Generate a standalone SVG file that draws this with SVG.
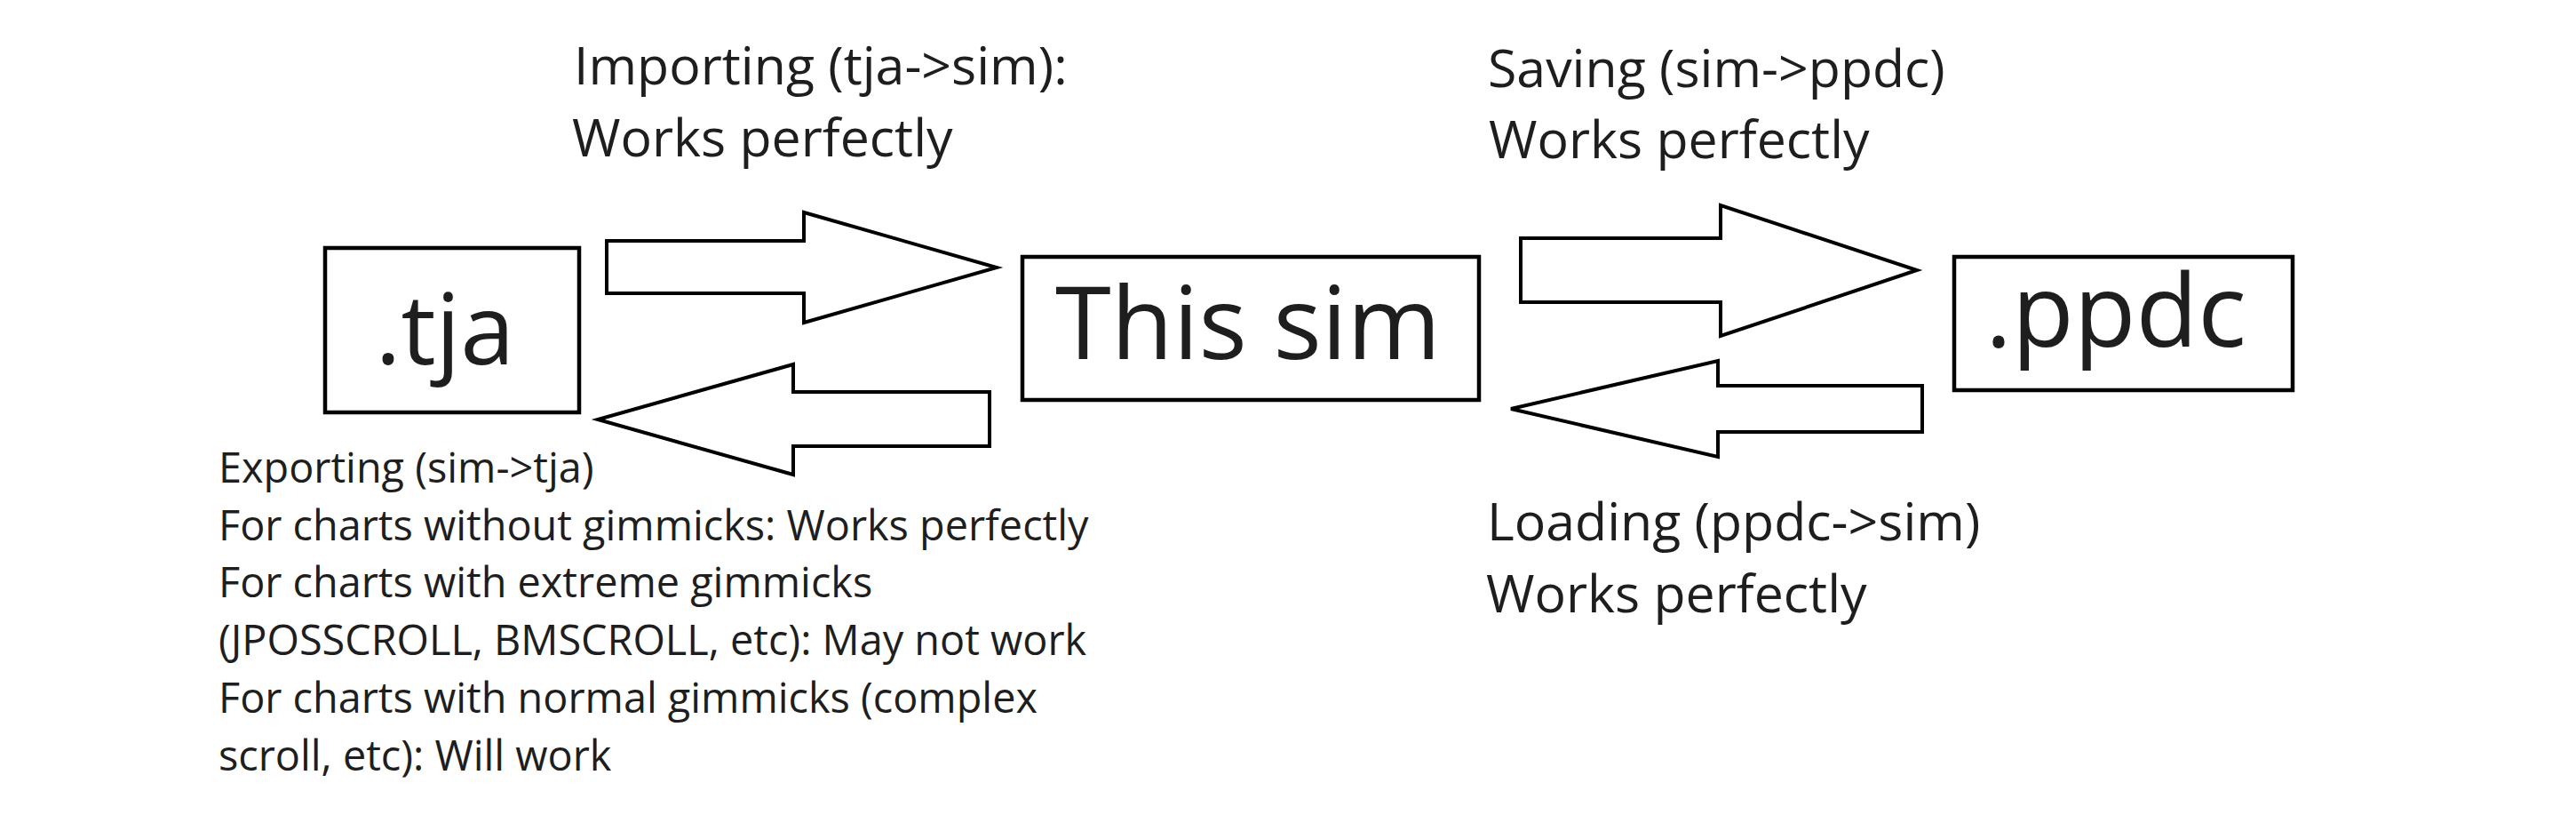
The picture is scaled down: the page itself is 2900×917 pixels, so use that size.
<svg xmlns="http://www.w3.org/2000/svg" width="2900" height="917" viewBox="0 0 2900 917">
<style>
.box{fill:#fff;stroke:#000;stroke-width:4.5}
.arr{fill:#fff;stroke:#000;stroke-width:4;stroke-linejoin:miter}
text{font-family:"Open Sans","Noto Sans",sans-serif;fill:#1e1e1e}
.big{font-size:114px;text-anchor:middle}
.lbl{font-size:59px}
.sm{font-size:46.8px}
</style>
<rect width="2900" height="917" fill="#fff"/>
<g id="connectors">
<polygon class="arr" points="683,271 905,271 905,239 1122,301 905,363 905,330 683,330"/>
<polygon class="arr" points="1114,441 893,441 893,410 673,472 893,534 893,502 1114,502"/>
<polygon class="arr" points="1712,268 1937,268 1937,231 2158,304 1937,378 1937,340 1712,340"/>
<polygon class="arr" points="2164,434 1934,434 1934,406 1701,460 1934,514 1934,486 2164,486"/>
</g>
<g id="node-tja">
<rect class="box" x="366" y="279" width="286" height="185"/>
<text class="big" x="501" y="410" style="font-size:110px">.tja</text>
</g>
<g id="node-sim">
<rect class="box" x="1151" y="289" width="514" height="161"/>
<text class="big" x="1405" y="404">This sim</text>
</g>
<g id="node-ppdc">
<rect class="box" x="2200" y="289" width="381" height="150"/>
<text class="big" x="2382" y="390">.ppdc</text>
</g>
<g id="label-import">
<text class="lbl" x="646" y="95">Importing (tja-&gt;sim):</text>
<text class="lbl" x="644" y="176">Works perfectly</text>
</g>
<g id="label-save">
<text class="lbl" x="1675" y="98">Saving (sim-&gt;ppdc)</text>
<text class="lbl" x="1676" y="178">Works perfectly</text>
</g>
<g id="label-load">
<text class="lbl" x="1674" y="608">Loading (ppdc-&gt;sim)</text>
<text class="lbl" x="1673" y="689">Works perfectly</text>
</g>
<g id="label-export">
<text class="sm" x="246" y="543">Exporting (sim-&gt;tja)</text>
<text class="sm" x="246" y="608">For charts without gimmicks: Works perfectly</text>
<text class="sm" x="246" y="672">For charts with extreme gimmicks</text>
<text class="sm" x="246" y="737">(JPOSSCROLL, BMSCROLL, etc): May not work</text>
<text class="sm" x="246" y="802">For charts with normal gimmicks (complex</text>
<text class="sm" x="246" y="867">scroll, etc): Will work</text>
</g>
</svg>
